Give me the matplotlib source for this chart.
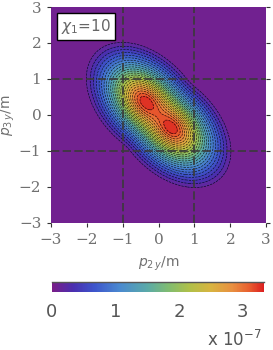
import numpy as np
import matplotlib
matplotlib.use("Agg")
import matplotlib.pyplot as plt
from matplotlib.colors import LinearSegmentedColormap, Normalize
from matplotlib.cm import ScalarMappable

# field parameters (u along the anti-diagonal, v across it)
peak_u = 0.52          # peaks at about (-0.37, 0.36) and (0.35, -0.37)
reach_u = 2.16         # outer contour reaches u ~ +-2.45
reach_v = 1.43         # outer contour reaches v ~ +-1.28
shape_b = 1.5
soft = 0.18
blend_k = 4
zmax = 3.34e-7
n_levels = 26

cmap_nodes = [0.0, 0.1, 0.2, 0.32, 0.45, 0.55, 0.65, 0.75, 0.85, 0.93, 1.0]
cmap_colors = ["#7a1e88", "#4a2fb0", "#3d55cc", "#4a8ad0", "#5aaaa8", "#80bc70",
               "#b0c048", "#d8b440", "#e89040", "#e86030", "#dc2020"]
cmap = LinearSegmentedColormap.from_list("pur_rainbow", list(zip(cmap_nodes, cmap_colors)))

ticks = [-3, -2, -1, 0, 1, 2, 3]
guide_lines = [-1, 1]
cbar_ticks = [0, 1, 2, 3]

x = np.linspace(-3, 3, 121)
X, Y = np.meshgrid(x, x)
U = (X - Y) / np.sqrt(2)
V = (X + Y) / np.sqrt(2)


def lobe(u0):
    r = np.sqrt(((U - u0) / reach_u) ** 2 + (V / reach_v) ** 2)
    r = (np.sqrt(r ** 2 + soft ** 2) - soft) / (np.sqrt(1 + soft ** 2) - soft)
    return np.clip(1 - r, 0, None) ** shape_b


Z = (lobe(peak_u) ** blend_k + lobe(-peak_u) ** blend_k) ** (1 / blend_k)
Z = Z / Z.max() * zmax

levels = np.linspace(0, zmax, n_levels)

fig = plt.figure(figsize=(2.73, 3.5), dpi=100)
ax = fig.add_axes([0.187, 0.363, 0.788, 0.617])
ax.set_facecolor(cmap(0.0))
ax.contourf(X, Y, Z, levels=levels, cmap=cmap, vmin=0, vmax=zmax)
ax.contour(X, Y, Z, levels=levels[1:], colors="k", linestyles="--", linewidths=0.45, alpha=0.85)

for g in guide_lines:
    ax.axvline(g, color="#3a3a3a", lw=1.2, dashes=(5, 2))
    ax.axhline(g, color="#3a3a3a", lw=1.2, dashes=(5, 2))

ax.set_xlim(-3, 3)
ax.set_ylim(-3, 3)
ax.set_xticks(ticks)
ax.set_yticks(ticks)
ax.set_xticklabels([str(t).replace("-", "\u2212") for t in ticks])
ax.set_yticklabels([str(t).replace("-", "\u2212") for t in ticks])
for s in ax.spines.values():
    s.set_visible(False)
ax.tick_params(direction="out", length=3, width=0.8, color="#333333",
               labelcolor="#707070", labelsize=11, right=True, pad=4)
for lab in ax.get_xticklabels() + ax.get_yticklabels():
    lab.set_family("DejaVu Serif")

ax.set_xlabel("$p_{2\\,y}$/m", color="#707070", fontsize=10, labelpad=6)
ax.set_ylabel("$p_{3\\,y}$/m", color="#707070", fontsize=10, labelpad=1)

ax.text(-2.72, 2.72, "$\\chi_1$=10", color="#666666", fontsize=11, ha="left", va="top",
        bbox=dict(boxstyle="square,pad=0.25", fc="white", ec="black", lw=1))

cax = fig.add_axes([0.19, 0.166, 0.777, 0.0286])
sm = ScalarMappable(norm=Normalize(0, zmax * 1e7), cmap=cmap)
cb = fig.colorbar(sm, cax=cax, orientation="horizontal")
cb.outline.set_visible(False)
cb.set_ticks(cbar_ticks)
cax.tick_params(length=0, labelsize=13, labelcolor="#555555", pad=8)
cax.plot([0, 1], [1, 1], transform=cax.transAxes, color="#555555", lw=1, clip_on=False)
fig.text(0.96, 0.03, "x 10$^{-7}$", color="#555555", fontsize=12, ha="right", va="center")

fig.savefig("out.png", dpi=100)
